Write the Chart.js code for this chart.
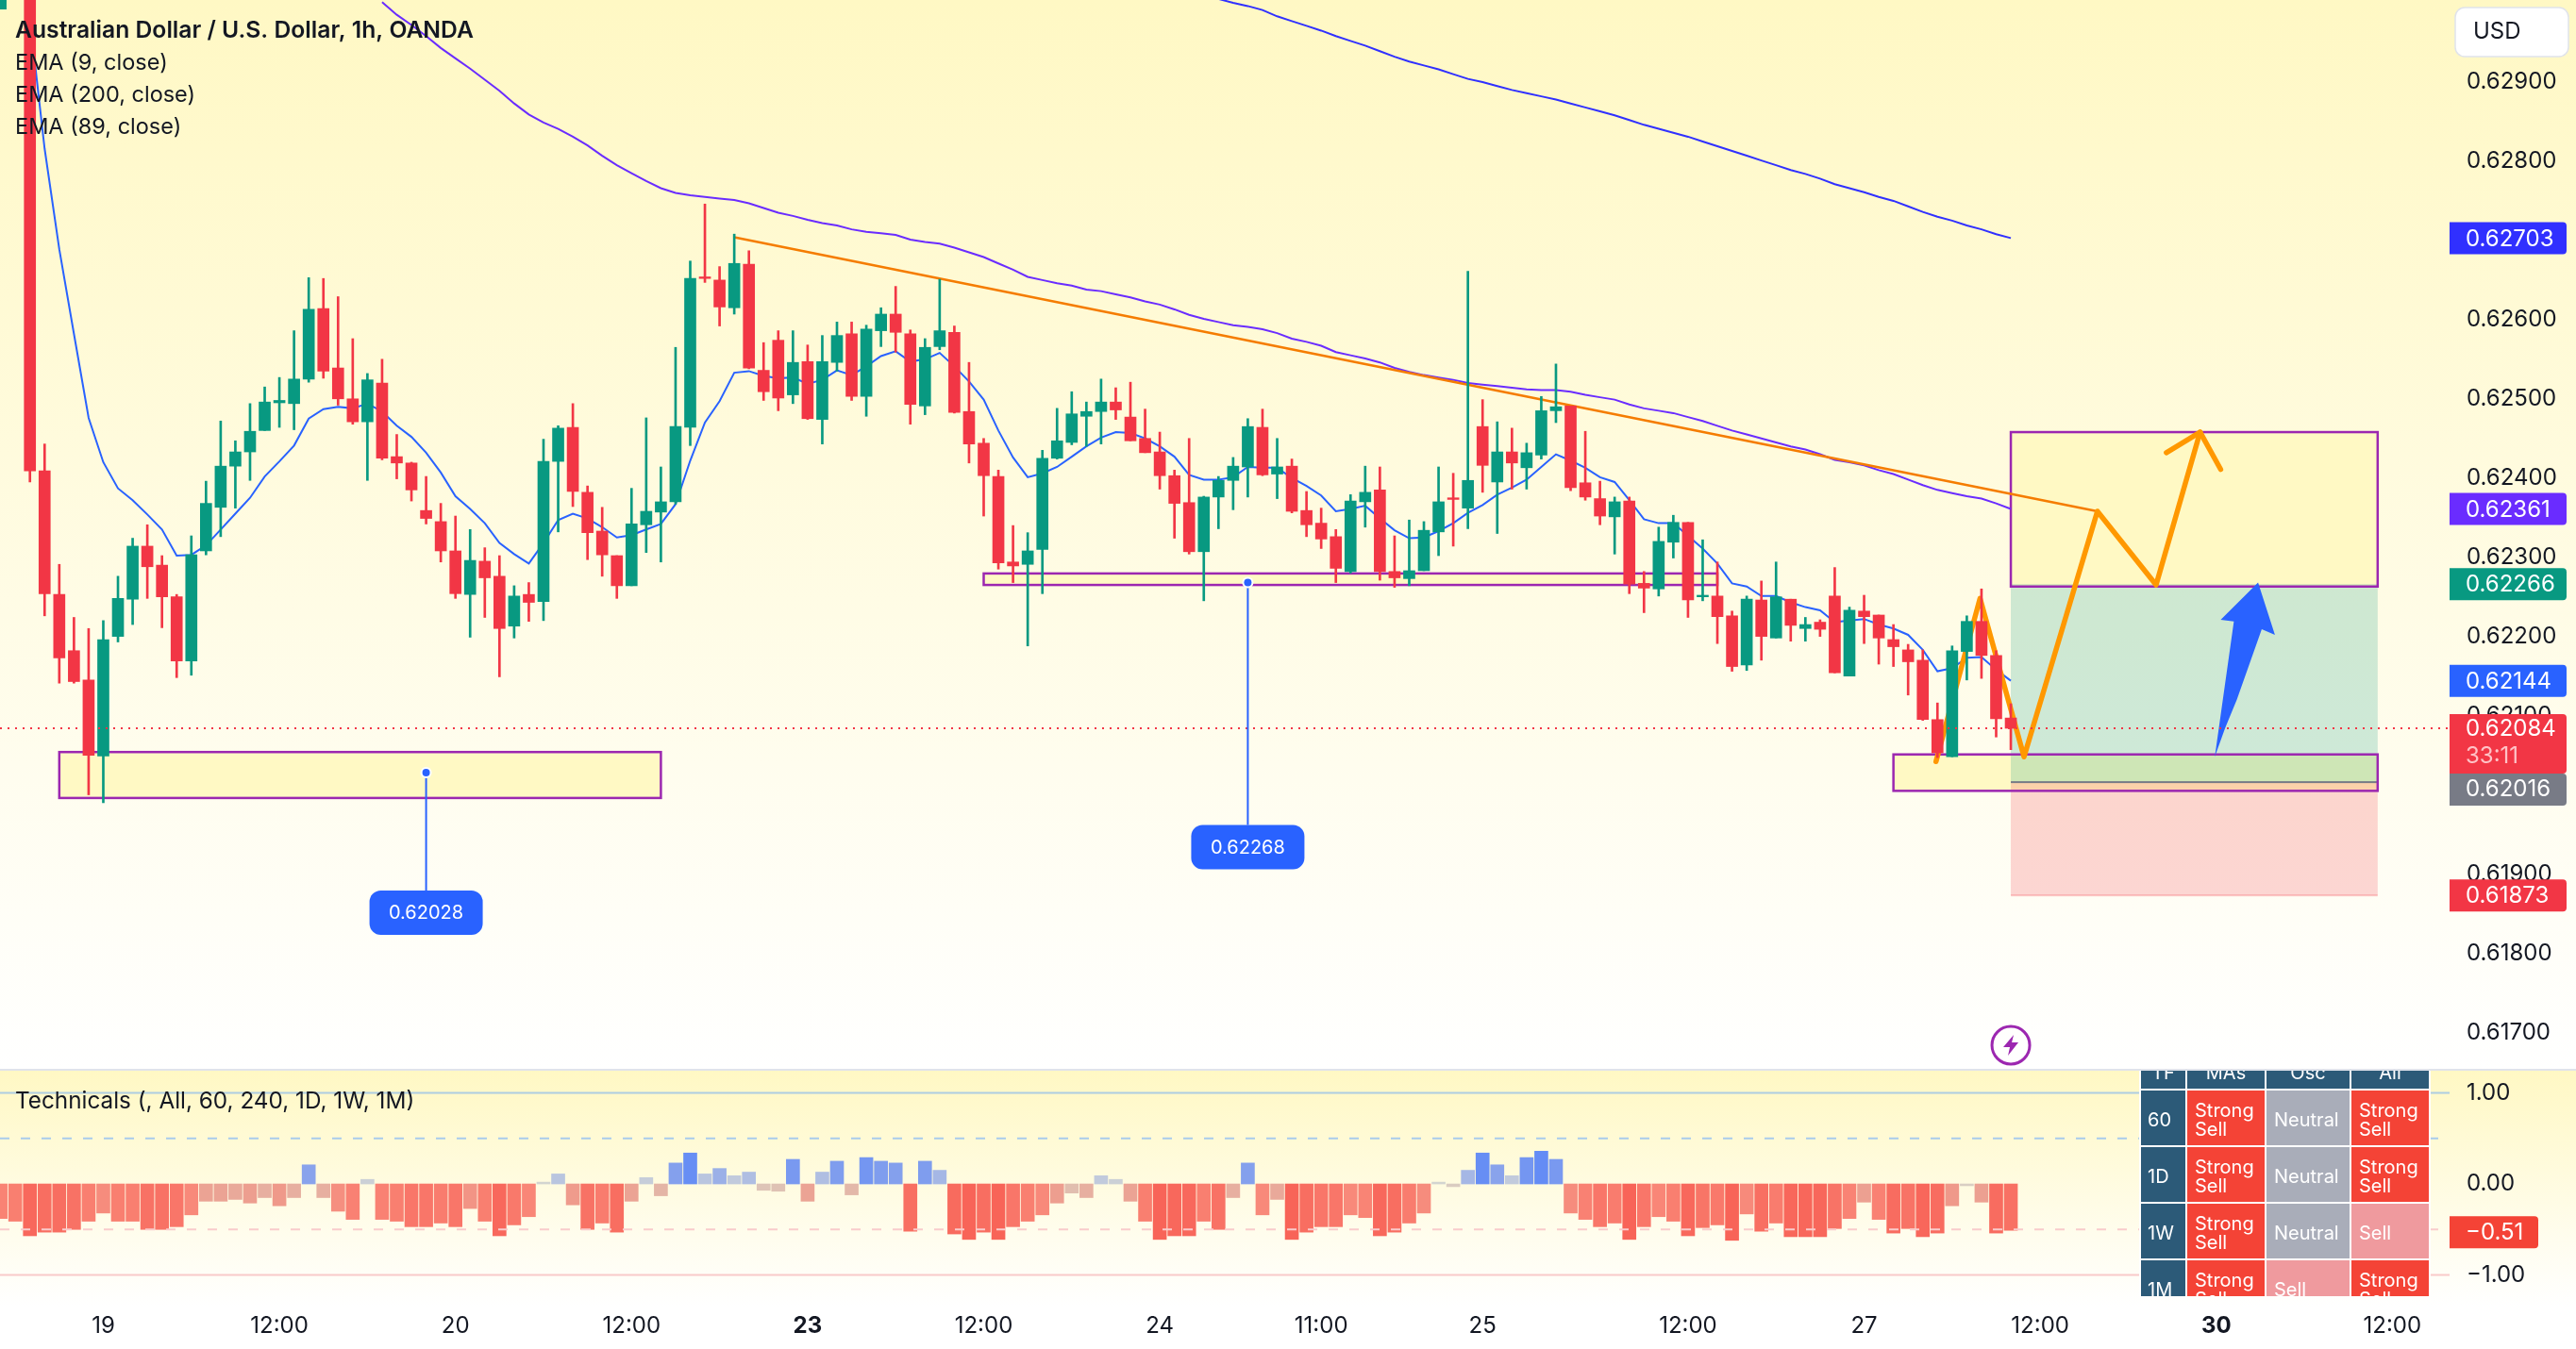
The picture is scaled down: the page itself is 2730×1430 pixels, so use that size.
<!DOCTYPE html>
<html><head><meta charset="utf-8">
<script src="https://cdn.jsdelivr.net/npm/chart.js@4/dist/chart.umd.min.js"></script>
<style>
html,body{margin:0;padding:0;background:#fff;width:2730px;height:1430px;overflow:hidden}
#top{position:absolute;left:0;top:0;width:2730px;height:1135px;background:linear-gradient(180deg,#fff8c4 0,#ffffff 1135px)}
#bot{position:absolute;left:0;top:1135px;width:2730px;height:295px;background:linear-gradient(180deg,#fff8c4 0,#ffffff 250px)}
#sep{position:absolute;left:0;top:1133px;width:2730px;height:2px;background:#e0e3eb}
canvas{display:block}
</style></head><body>
<div id="top"><canvas id="main" width="2730" height="1135"></canvas></div>
<div id="bot"><canvas id="tech" width="2730" height="295"></canvas></div>
<div id="sep"></div>
<script>
const firstBar = -2;
const opens = [0.62992,0.63180,0.63090,0.62409,0.62253,0.62182,0.62145,0.62049,0.62200,0.62247,0.62314,0.62290,0.62250,0.62169,0.62308,0.62363,0.62415,0.62433,0.62460,0.62495,0.62494,0.62525,0.62614,0.62539,0.62500,0.62471,0.62520,0.62427,0.62419,0.62359,0.62345,0.62308,0.62253,0.62295,0.62276,0.62213,0.62253,0.62244,0.62421,0.62464,0.62382,0.62333,0.62302,0.62264,0.62341,0.62357,0.62370,0.62464,0.62654,0.62650,0.62615,0.62670,0.62536,0.62574,0.62505,0.62547,0.62474,0.62546,0.62582,0.62503,0.62586,0.62607,0.62582,0.62491,0.62566,0.62584,0.62484,0.62444,0.62402,0.62294,0.62291,0.62310,0.62425,0.62445,0.62478,0.62484,0.62496,0.62477,0.62450,0.62433,0.62403,0.62369,0.62307,0.62376,0.62397,0.62414,0.62464,0.62405,0.62415,0.62359,0.62343,0.62326,0.62282,0.62370,0.62385,0.62282,0.62273,0.62283,0.62332,0.62375,0.62362,0.62465,0.62395,0.62433,0.62413,0.62429,0.62485,0.62491,0.62394,0.62374,0.62351,0.62371,0.62267,0.62260,0.62319,0.62344,0.62250,0.62251,0.62226,0.62164,0.62246,0.62198,0.62247,0.62210,0.62218,0.62251,0.62150,0.62232,0.62227,0.62196,0.62183,0.62170,0.62095,0.62048,0.62181,0.62219,0.62176,0.62097];
const highs = [0.63100,0.63200,0.63100,0.62443,0.62291,0.62224,0.62210,0.62220,0.62276,0.62324,0.62341,0.62302,0.62253,0.62327,0.62396,0.62472,0.62447,0.62494,0.62515,0.62527,0.62586,0.62653,0.62652,0.62629,0.62576,0.62532,0.62550,0.62455,0.62420,0.62402,0.62368,0.62352,0.62335,0.62312,0.62302,0.62264,0.62268,0.62449,0.62466,0.62494,0.62390,0.62363,0.62302,0.62387,0.62476,0.62414,0.62565,0.62674,0.62746,0.62667,0.62708,0.62687,0.62571,0.62586,0.62586,0.62568,0.62580,0.62597,0.62597,0.62593,0.62615,0.62642,0.62587,0.62576,0.62651,0.62592,0.62546,0.62450,0.62410,0.62340,0.62331,0.62435,0.62488,0.62509,0.62496,0.62525,0.62514,0.62521,0.62487,0.62458,0.62410,0.62450,0.62377,0.62402,0.62426,0.62475,0.62487,0.62450,0.62424,0.62383,0.62362,0.62335,0.62379,0.62415,0.62414,0.62327,0.62347,0.62345,0.62414,0.62406,0.62661,0.62499,0.62471,0.62463,0.62444,0.62503,0.62544,0.62491,0.62459,0.62396,0.62376,0.62376,0.62282,0.62338,0.62353,0.62344,0.62322,0.62294,0.62232,0.62251,0.62270,0.62294,0.62247,0.62224,0.62221,0.62287,0.62237,0.62252,0.62227,0.62215,0.62190,0.62183,0.62116,0.62188,0.62226,0.62260,0.62182,0.62115];
const lows = [0.62992,0.63060,0.62395,0.62226,0.62141,0.62141,0.62000,0.61990,0.62193,0.62215,0.62248,0.62211,0.62148,0.62151,0.62303,0.62326,0.62362,0.62397,0.62460,0.62464,0.62461,0.62521,0.62526,0.62492,0.62468,0.62397,0.62423,0.62399,0.62371,0.62342,0.62294,0.62248,0.62199,0.62224,0.62149,0.62198,0.62219,0.62220,0.62332,0.62364,0.62297,0.62276,0.62248,0.62264,0.62306,0.62294,0.62367,0.62441,0.62647,0.62592,0.62607,0.62538,0.62498,0.62485,0.62494,0.62474,0.62443,0.62535,0.62498,0.62478,0.62566,0.62559,0.62468,0.62480,0.62562,0.62482,0.62419,0.62352,0.62285,0.62268,0.62188,0.62254,0.62424,0.62442,0.62440,0.62443,0.62474,0.62447,0.62432,0.62386,0.62324,0.62304,0.62245,0.62336,0.62360,0.62376,0.62403,0.62374,0.62356,0.62326,0.62311,0.62268,0.62280,0.62338,0.62271,0.62262,0.62264,0.62283,0.62302,0.62314,0.62336,0.62382,0.62330,0.62386,0.62386,0.62424,0.62470,0.62384,0.62372,0.62341,0.62304,0.62254,0.62230,0.62251,0.62299,0.62224,0.62245,0.62191,0.62156,0.62157,0.62170,0.62198,0.62194,0.62194,0.62200,0.62154,0.62150,0.62191,0.62165,0.62162,0.62126,0.62094,0.62047,0.62048,0.62145,0.62147,0.62073,0.62057];
const closes = [0.63080,0.63090,0.62409,0.62254,0.62173,0.62143,0.62050,0.62196,0.62248,0.62314,0.62288,0.62250,0.62169,0.62303,0.62368,0.62415,0.62433,0.62459,0.62496,0.62498,0.62525,0.62613,0.62535,0.62500,0.62471,0.62524,0.62425,0.62419,0.62385,0.62349,0.62308,0.62254,0.62296,0.62274,0.62210,0.62251,0.62243,0.62421,0.62463,0.62383,0.62331,0.62303,0.62264,0.62342,0.62358,0.62370,0.62465,0.62652,0.62652,0.62616,0.62671,0.62539,0.62509,0.62501,0.62546,0.62475,0.62547,0.62580,0.62503,0.62588,0.62607,0.62584,0.62493,0.62565,0.62586,0.62483,0.62443,0.62403,0.62293,0.62289,0.62308,0.62425,0.62447,0.62481,0.62484,0.62496,0.62486,0.62447,0.62432,0.62403,0.62368,0.62307,0.62376,0.62397,0.62415,0.62465,0.62404,0.62414,0.62358,0.62341,0.62323,0.62286,0.62371,0.62382,0.62282,0.62274,0.62283,0.62334,0.62370,0.62373,0.62397,0.62416,0.62433,0.62419,0.62432,0.62485,0.62490,0.62388,0.62376,0.62352,0.62370,0.62266,0.62261,0.62320,0.62344,0.62246,0.62252,0.62225,0.62162,0.62247,0.62200,0.62250,0.62214,0.62215,0.62209,0.62154,0.62233,0.62225,0.62198,0.62187,0.62168,0.62095,0.62053,0.62182,0.62219,0.62176,0.62096,0.62084];

const ema9Start = 0;
const ema9 = [0.62980,0.62816,0.62689,0.62582,0.62476,0.62420,0.62387,0.62372,0.62354,0.62335,0.62302,0.62303,0.62315,0.62335,0.62355,0.62375,0.62402,0.62421,0.62441,0.62475,0.62487,0.62490,0.62488,0.62494,0.62484,0.62466,0.62452,0.62432,0.62407,0.62377,0.62361,0.62343,0.62318,0.62304,0.62292,0.62318,0.62347,0.62355,0.62349,0.62338,0.62325,0.62328,0.62335,0.62342,0.62367,0.62422,0.62470,0.62497,0.62533,0.62535,0.62529,0.62526,0.62527,0.62519,0.62524,0.62536,0.62530,0.62541,0.62554,0.62560,0.62547,0.62550,0.62558,0.62541,0.62522,0.62499,0.62460,0.62426,0.62401,0.62406,0.62414,0.62427,0.62440,0.62451,0.62458,0.62457,0.62450,0.62440,0.62427,0.62404,0.62398,0.62398,0.62401,0.62414,0.62413,0.62413,0.62400,0.62390,0.62378,0.62358,0.62361,0.62365,0.62349,0.62334,0.62324,0.62325,0.62333,0.62343,0.62356,0.62366,0.62379,0.62388,0.62398,0.62414,0.62430,0.62422,0.62413,0.62401,0.62395,0.62372,0.62348,0.62343,0.62343,0.62327,0.62311,0.62292,0.62267,0.62263,0.62251,0.62251,0.62243,0.62237,0.62233,0.62218,0.62220,0.62222,0.62215,0.62210,0.62202,0.62183,0.62156,0.62160,0.62173,0.62174,0.62158,0.62144];
const ema89Start = 24;
const ema89 = [0.63001,0.62985,0.62972,0.62958,0.62943,0.62930,0.62917,0.62903,0.62889,0.62873,0.62859,0.62849,0.62841,0.62831,0.62820,0.62807,0.62795,0.62785,0.62775,0.62766,0.62760,0.62757,0.62755,0.62753,0.62751,0.62747,0.62741,0.62735,0.62731,0.62726,0.62722,0.62719,0.62714,0.62711,0.62709,0.62707,0.62701,0.62698,0.62696,0.62691,0.62685,0.62679,0.62671,0.62663,0.62654,0.62650,0.62646,0.62643,0.62638,0.62636,0.62632,0.62628,0.62623,0.62619,0.62613,0.62606,0.62601,0.62597,0.62593,0.62591,0.62588,0.62583,0.62576,0.62572,0.62567,0.62559,0.62555,0.62551,0.62546,0.62539,0.62534,0.62530,0.62527,0.62524,0.62520,0.62518,0.62516,0.62514,0.62512,0.62511,0.62511,0.62509,0.62505,0.62502,0.62499,0.62493,0.62488,0.62485,0.62482,0.62477,0.62472,0.62466,0.62460,0.62455,0.62450,0.62445,0.62440,0.62436,0.62430,0.62423,0.62420,0.62416,0.62410,0.62405,0.62398,0.62391,0.62385,0.62381,0.62377,0.62374,0.62368,0.62361];
const ema200Start = 81;
const ema200 = [0.63005,0.63000,0.62996,0.62991,0.62983,0.62977,0.62971,0.62965,0.62958,0.62952,0.62946,0.62939,0.62932,0.62926,0.62921,0.62916,0.62910,0.62904,0.62900,0.62895,0.62890,0.62886,0.62882,0.62878,0.62873,0.62868,0.62863,0.62858,0.62852,0.62846,0.62841,0.62836,0.62831,0.62825,0.62819,0.62813,0.62807,0.62801,0.62795,0.62789,0.62784,0.62778,0.62771,0.62766,0.62761,0.62755,0.62750,0.62743,0.62736,0.62730,0.62725,0.62719,0.62714,0.62708,0.62703];

const technicals = [-.38,-.41,-.57,-.53,-.53,-.5,-.41,-.32,-.41,-.41,-.5,-.5,-.47,-.34,-.19,-.19,-.17,-.21,-.15,-.24,-.15,.21,-.15,-.3,-.39,.05,-.39,-.41,-.47,-.47,-.43,-.47,-.27,-.41,-.57,-.45,-.36,.02,.11,-.23,-.5,-.43,-.53,-.19,.07,-.13,.23,.34,.11,.17,.09,.13,-.07,-.08,.27,-.19,.13,.25,-.12,.29,.25,.23,-.52,.25,.15,-.55,-.61,-.53,-.61,-.47,-.41,-.34,-.21,-.1,-.15,.09,.05,-.19,-.41,-.61,-.57,-.57,-.41,-.5,-.15,.23,-.34,-.17,-.61,-.53,-.47,-.47,-.34,-.37,-.57,-.53,-.43,-.32,.02,-.03,.15,.34,.21,.09,.29,.36,.27,-.32,-.39,-.47,-.43,-.61,-.47,-.36,-.41,-.57,-.48,-.45,-.62,-.33,-.52,-.43,-.58,-.58,-.58,-.49,-.38,-.2,-.39,-.54,-.49,-.58,-.54,-.24,-.02,-.2,-.54,-.51];

const priceTicks = [0.617,0.618,0.619,0.62,0.621,0.622,0.623,0.624,0.625,0.626,0.627,0.628,0.629];
const techTicks = [1,0,-1];
const techLevels = [1,0.5,-0.5,-1];
const xTickPositions = [5,17,29,41,53,65,77,88,99,113,125,137,149,161];
const xTickLabels = ['19','12:00','20','12:00','23','12:00','24','11:00','25','12:00','27','12:00','30','12:00'];
const xTickBold = ['23','30'];

const trendX = [48,140.9];
const trendY = [0.62704,0.62358];
const pathX = [129.9,132.9,135.9,140.9,144.9,147.9];
const pathY = [0.62042,0.62248,0.62048,0.62358,0.62265,0.62458];
const headX = [145.6,147.9,149.3];
const headY = [0.62432,0.62458,0.62411];
const arrowX = [148.9,150.2,149.3,151.85,153,152.1,150.4,149.6];
const arrowY = [0.62048,0.62219,0.62221,0.62268,0.62202,0.62209,0.62120,0.62084];
const currentPrice = 0.62084;
const supportBoxes = [[2,43,0.62054,0.61996],[65,115,0.622795,0.62265],[127,160,0.62051,0.62005],[135,160,0.62458,0.62263]];
const positionX = [135,160];
const positionTarget = 0.62266;
const positionEntry = 0.62016;
const positionStop = 0.61873;
const pricePins = [[27,0.62028],[83,0.62268]];
const pinDrop = [125,257];
const legendLines = ['EMA (9, close)','EMA (200, close)','EMA (89, close)'];
const title = 'Australian Dollar / U.S. Dollar, 1h, OANDA';
const tableHead = ['TF','MAs','Osc','All'];
const tableRows = [['60','Strong Sell','Neutral','Strong Sell'],['1D','Strong Sell','Neutral','Strong Sell'],['1W','Strong Sell','Neutral','Sell'],['1M','Strong Sell','Sell','Strong Sell']];

const UP='#089981', DOWN='#f23645', FONT='Inter';
Chart.defaults.font.family=FONT;
Chart.defaults.color='#131722';
const xMin=-2.04, xMax=164.9;
const idx=(a,s)=>a.map((y,k)=>({x:s+k,y}));
const line=(data,color,width,order,extra)=>Object.assign({type:'line',data,borderColor:color,borderWidth:width,pointRadius:0,tension:0,order,fill:false},extra||{});
const zip=(xs,ys)=>xs.map((x,k)=>({x,y:ys[k]}));
const isUp=k=>closes[k]>=opens[k];

const baseOpts={responsive:false,animation:false,events:[],devicePixelRatio:1,layout:{padding:0,autoPadding:false},plugins:{legend:{display:false},tooltip:{enabled:false}}};
function rr(c,x,y,w,h,r){c.beginPath();c.roundRect(x,y,w,h,r);}
// Pin the plot area to the pane size, regardless of tick label overhang.
const pinArea=(bottom)=>({id:'pinArea',afterLayout(ch){
  const a=ch.chartArea;a.left=0;a.right=2596;a.top=0;a.bottom=bottom;a.width=2596;a.height=bottom;
  const X=ch.scales.x,Y=ch.scales.y;
  Y.top=0;Y.bottom=bottom;Y.height=bottom;Y.left=2596;Y.right=2730;Y.width=134;Y.configure();
  X.left=0;X.right=2596;X.width=2596;X.top=bottom;X.bottom=ch.height;X.height=ch.height-bottom;X.configure();
}});

const mainPlugin={id:'mainDraw',
 beforeDatasetsDraw(ch){
  const c=ch.ctx,X=ch.scales.x,Y=ch.scales.y,px=v=>X.getPixelForValue(v),py=v=>Y.getPixelForValue(v);
  c.save();
  c.fillStyle='#fff9c4';
  supportBoxes.forEach(b=>c.fillRect(px(b[0]),py(b[2]),px(b[1])-px(b[0]),py(b[3])-py(b[2])));
  const x0=px(positionX[0]),w=px(positionX[1])-x0;
  c.fillStyle='rgba(8,153,129,0.2)';
  c.fillRect(x0,py(positionTarget),w,py(positionEntry)-py(positionTarget));
  c.fillStyle='rgba(242,54,69,0.2)';
  c.fillRect(x0,py(positionEntry),w,py(positionStop)-py(positionEntry));
  c.fillStyle='#787b86';c.fillRect(x0,py(positionEntry)-1,w,2);
  c.fillStyle='rgba(242,54,69,0.25)';c.fillRect(x0,py(positionStop)-1,w,2);
  c.strokeStyle='#9c27b0';c.lineWidth=2.5;
  supportBoxes.forEach(b=>c.strokeRect(px(b[0]),py(b[2]),px(b[1])-px(b[0]),py(b[3])-py(b[2])));
  c.fillStyle='#2962ff';c.beginPath();
  arrowX.forEach((a,k)=>{k?c.lineTo(px(a),py(arrowY[k])):c.moveTo(px(a),py(arrowY[k]));});
  c.closePath();c.fill();
  c.restore();
 },
 afterDraw(ch){
  const c=ch.ctx,X=ch.scales.x,Y=ch.scales.y,px=v=>X.getPixelForValue(v),py=v=>Y.getPixelForValue(v);
  c.save();
  // pins
  pricePins.forEach((p,k)=>{
   const x=px(p[0]),y=py(p[1]),top=y+pinDrop[k];
   c.strokeStyle='#2962ff';c.lineWidth=2;c.beginPath();c.moveTo(x,y);c.lineTo(x,top);c.stroke();
   c.fillStyle='#fff';c.beginPath();c.arc(x,y,6,0,7);c.fill();
   c.fillStyle='#2962ff';c.beginPath();c.arc(x,y,4,0,7);c.fill();
   rr(c,x-60,top,120,47,12);c.fill();
   c.fillStyle='#fff';c.font='20px '+FONT;c.textAlign='center';c.textBaseline='middle';
   c.fillText(p[1].toFixed(5),x,top+24);
  });
  // legend
  c.textAlign='left';c.textBaseline='middle';c.fillStyle='#131722';
  c.font='600 24.7px '+FONT;c.fillText(title,16,33);
  c.font='23.5px '+FONT;legendLines.forEach((t,k)=>c.fillText(t,16,67+k*34));
  // last value tags
  const tag=(val,col,y0,h,txtY)=>{c.fillStyle=col;rr(c,2596,y0,124,h,[0,4,4,0]);c.fill();
   c.fillStyle='#fff';c.font='24px '+FONT;c.textAlign='left';c.fillText(val.toFixed(5),2613,txtY);};
  const std=(v,col)=>{const y=py(v);tag(v,col,y-17,34,y+1);};
  std(ema200[ema200.length-1],'#3030ff');
  std(ema89[ema89.length-1],'#6a2cff');
  std(positionTarget,'#089981');
  std(ema9[ema9.length-1],'#2962ff');
  std(positionStop,'#f23645');
  const yc=py(currentPrice);
  tag(currentPrice,'#f23645',yc-15,63,yc+1);
  c.fillStyle='#ffc2c6';c.fillText('33:11',2613,yc+30);
  tag(positionEntry,'#787b86',yc+48,34,yc+65);
  // USD button
  c.fillStyle='#fff';c.strokeStyle='#e0e3eb';c.lineWidth=1.5;rr(c,2602,8,120,52,10);c.fill();c.stroke();
  c.fillStyle='#131722';c.font='24px '+FONT;c.fillText('USD',2621,34);
  // lightning badge
  const bx=px(135),by=1108;
  c.strokeStyle='#9c27b0';c.lineWidth=3;c.beginPath();c.arc(bx,by,20,0,7);c.stroke();
  c.fillStyle='#9c27b0';c.beginPath();
  [[3,-11],[-8,2],[-1,2],[-3,11],[8,-3],[1,-3]].forEach((q,k)=>{k?c.lineTo(bx+q[0],by+q[1]):c.moveTo(bx+q[0],by+q[1]);});
  c.closePath();c.fill();
  c.restore();
 }};

new Chart(document.getElementById('main'),{
 type:'bar',
 data:{datasets:[
  {label:'bodies',order:1,grouped:false,barThickness:12,data:opens.map((o,k)=>({x:firstBar+k,y:[o,closes[k]]})),backgroundColor:opens.map((o,k)=>isUp(k)?UP:DOWN)},
  {label:'wicks',order:2,grouped:false,barThickness:2,data:lows.map((l,k)=>({x:firstBar+k,y:[l,highs[k]]})),backgroundColor:lows.map((l,k)=>isUp(k)?UP:DOWN)},
  line([{x:xMin,y:currentPrice},{x:xMax,y:currentPrice}],'#f23645',2,0,{borderDash:[2,6]}),
  line(zip(pathX,pathY),'#ff9800',5.5,3,{borderCapStyle:'round',borderJoinStyle:'round'}),
  line(zip(headX,headY),'#ff9800',5.5,3,{borderCapStyle:'round',borderJoinStyle:'round'}),
  line(zip(trendX,trendY),'#f57c00',2.5,4),
  line(idx(ema9,ema9Start),'#2962ff',2,5),
  line(idx(ema89,ema89Start),'#6a2cff',2,6),
  line(idx(ema200,ema200Start),'#3030ff',2,7)
 ]},
 options:Object.assign({},baseOpts,{
  scales:{
   x:{type:'linear',display:false,min:xMin,max:xMax,offset:false},
   y:{type:'linear',position:'right',min:0.6165162,max:0.6300363,
      afterFit(s){s.width=134;},
      afterBuildTicks(s){s.ticks=priceTicks.map(value=>({value}));},
      grid:{display:false},border:{display:false},
      ticks:{padding:10,crossAlign:'near',autoSkip:false,font:{size:24},color:'#131722',callback:v=>v.toFixed(5)}}
  }}),
 plugins:[pinArea(1135),mainPlugin]
});

const negStops=[[0,[215,210,200]],[.1,[225,190,175]],[.2,[236,160,145]],[.35,[249,135,120]],[.6,[248,100,88]]];
const posStops=[[0,[215,215,205]],[.1,[190,200,222]],[.2,[140,165,235]],[.35,[100,140,245]]];
function shade(v){const s=v<0?negStops:posStops,a=Math.abs(v);
 for(let k=1;k<s.length;k++){if(a<=s[k][0]){const t=(a-s[k-1][0])/(s[k][0]-s[k-1][0]);
  return 'rgb('+s[k][1].map((q,j)=>Math.round(s[k-1][1][j]+(q-s[k-1][1][j])*t)).join(',')+')';}}
 return 'rgb('+s[s.length-1][1].join(',')+')';}

const techPlugin={id:'techDraw',
 afterDraw(ch){
  const c=ch.ctx,Y=ch.scales.y;
  c.save();
  c.textBaseline='middle';c.textAlign='left';
  c.fillStyle='#131722';c.font='24.3px '+FONT;
  c.fillText('Technicals (, All, 60, 240, 1D, 1W, 1M)',16,33);
  // table
  c.save();c.beginPath();c.rect(0,0,2730,239);c.clip();
  const cols=[[2269,47],[2318,82],[2402,88],[2492,82]];
  c.fillStyle='#fff';c.fillRect(2267,0,309,239);
  c.font='20px '+FONT;
  tableHead.forEach((t,k)=>{c.fillStyle='#2c5a78';c.fillRect(cols[k][0],-20,cols[k][1],39);
   c.fillStyle='#fff';c.textAlign='center';c.fillText(t,cols[k][0]+cols[k][1]/2,3);});
  c.textAlign='left';
  tableRows.forEach((row,r)=>{const y=21+r*60;
   row.forEach((t,k)=>{
    c.fillStyle=k===0?'#2c5a78':t==='Strong Sell'?'#f44336':t==='Neutral'?'#a9adb9':'#ef9a9e';
    c.fillRect(cols[k][0],y,cols[k][1],58);
    c.fillStyle='#fff';
    const tx=cols[k][0]+(k===0?7:8);
    if(t==='Strong Sell'){c.fillText('Strong',tx,y+22);c.fillText('Sell',tx,y+42);}
    else c.fillText(t,tx,y+32);
   });});
  c.restore();
  // last value tag
  const v=technicals[technicals.length-1],y=Y.getPixelForValue(v);
  c.fillStyle='#f44336';rr(c,2596,y-15,94,34,[0,4,4,0]);c.fill();
  c.fillStyle='#fff';c.font='24px '+FONT;c.fillText('\u2212'+Math.abs(v).toFixed(2),2613,y+3);
  c.restore();
 }};

new Chart(document.getElementById('tech'),{
 type:'bar',
 data:{datasets:[
  {order:2,grouped:false,barThickness:14,data:technicals.map((v,k)=>({x:firstBar+k,y:v})),backgroundColor:technicals.map(shade)},
  line([{x:xMin,y:techLevels[0]},{x:xMax,y:techLevels[0]}],'#aecde2',2,1),
  line([{x:xMin,y:techLevels[1]},{x:xMax,y:techLevels[1]}],'#a9cbec',2,1,{borderDash:[10,12]}),
  line([{x:xMin,y:techLevels[2]},{x:xMax,y:techLevels[2]}],'#f9cccc',2,1,{borderDash:[10,12]}),
  line([{x:xMin,y:techLevels[3]},{x:xMax,y:techLevels[3]}],'#f9caca',2,1)
 ]},
 options:Object.assign({},baseOpts,{
  scales:{
   x:{type:'linear',min:xMin,max:xMax,offset:false,position:'bottom',
      afterFit(s){s.height=56;},
      afterBuildTicks(s){s.ticks=xTickPositions.map(value=>({value}));},
      grid:{display:false},border:{display:false},
      ticks:{padding:9,autoSkip:false,maxRotation:0,minRotation:0,color:'#131722',
        font(ctx){const l=xTickLabels[xTickPositions.indexOf(ctx.tick&&ctx.tick.value)];return {size:24,weight:xTickBold.includes(l)?'700':'400'};},
        callback(v){return xTickLabels[xTickPositions.indexOf(v)];}}},
   y:{type:'linear',position:'right',min:-1.234,max:1.245,
      afterFit(s){s.width=134;},
      afterBuildTicks(s){s.ticks=techTicks.map(value=>({value}));},
      grid:{display:false},border:{display:false},
      ticks:{padding:10,crossAlign:'near',autoSkip:false,font:{size:24},color:'#131722',callback:v=>(v<0?'\u2212':'')+Math.abs(v).toFixed(2)}}
  }}),
 plugins:[pinArea(239),techPlugin]
});
</script>
</body></html>
